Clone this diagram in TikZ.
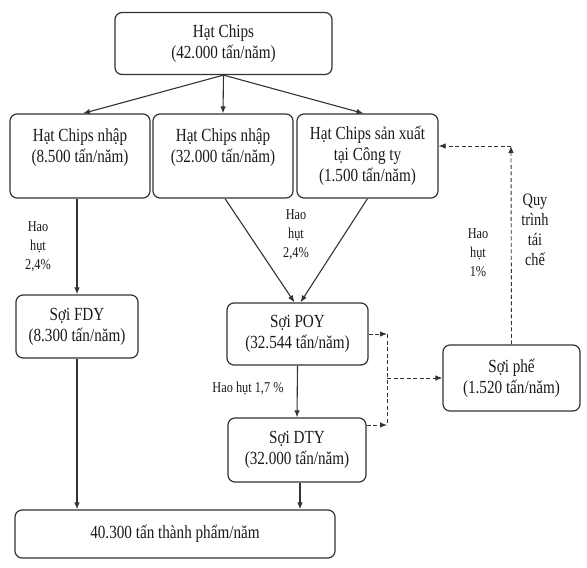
\documentclass[tikz,border=0pt]{standalone}
\usepackage{fontspec}
\setmainfont{Liberation Serif}[FakeStretch=0.82]
\usetikzlibrary{arrows.meta}
\usetikzlibrary{calc}

\begin{document}
\begin{tikzpicture}[x=1pt, y=-1pt,
    hop/.style={draw=black!80, line width=1.2pt, rounded corners=7pt, align=center,
        inner sep=0pt, text=black!90, font=\fontsize{18.5}{21}\selectfont},
    nhan/.style={align=center, text=black!90, font=\fontsize{15}{19}\selectfont},
    muiten/.style={-{Latex[length=7pt, width=5.5pt]}, black!80, line width=1.1pt},
    netdut/.style={black!80, line width=0.9pt, dash pattern=on 4pt off 2.5pt},
    taiche/.style={muiten, netdut}]
\useasboundingbox (0,0) rectangle (587,568);

\node[hop, minimum width=217pt, minimum height=62pt] (chips) at (223.5,43.5) {Hạt Chips\\(42.000 tấn/năm)};
\node[hop, minimum width=140pt, minimum height=84pt] (nhapA) at (80,156) {Hạt Chips nhập\\(8.500 tấn/năm)\\\mbox{}};
\node[hop, minimum width=140pt, minimum height=84pt] (nhapB) at (223,156) {Hạt Chips nhập\\(32.000 tấn/năm)\\\mbox{}};
\node[hop, minimum width=141pt, minimum height=84pt] (sanxuat) at (367.5,156) {Hạt Chips sản xuất\\tại Công ty\\(1.500 tấn/năm)};
\node[hop, minimum width=122pt, minimum height=63pt] (fdy) at (77,326.5) {Sợi FDY\\(8.300 tấn/năm)};
\node[hop, minimum width=141pt, minimum height=62pt] (poy) at (297.5,334) {Sợi POY\\(32.544 tấn/năm)};
\node[hop, minimum width=138pt, minimum height=64pt] (dty) at (297,450) {Sợi DTY\\(32.000 tấn/năm)};
\node[hop, minimum width=137pt, minimum height=66pt] (phe) at (511.5,378) {Sợi phế\\(1.520 tấn/năm)};
\node[hop, minimum width=320pt, minimum height=48pt] (thanhpham) at (175,534) {40.300 tấn thành phẩm/năm};

% nhan hao hut
\node[nhan] (haohutA) at (38,247) {Hao\\hụt\\2,4\%};
\node[nhan] (haohutB) at (296,235) {Hao\\hụt\\2,4\%};
\node[nhan] (haohutC) at (248,389) {Hao hụt 1,7 \%};
\node[nhan] (haohutD) at (478,253) {Hao\\hụt\\1\%};
\node[nhan, font=\fontsize{17.5}{20}\selectfont] (quytrinh) at (535,230) {Quy\\trình\\tái\\chế};

\draw[muiten] (chips.south) -- ([xshift=3pt]nhapA.north);
\draw[muiten] (chips.south) -- (nhapB.north);
\draw[muiten] (chips.south) -- ([xshift=-4pt]sanxuat.north);
\draw[muiten] (nhapA.south -| fdy.north) -- (fdy.north);
\draw[muiten] ([xshift=2pt]nhapB.south) -- ([xshift=-3pt]poy.north);
\draw[muiten] (sanxuat.south) -- ([xshift=3pt]poy.north);
\draw[muiten] (poy.south) -- (dty.north);
\draw[muiten] (fdy.south) -- (fdy.south |- thanhpham.north);
\draw[muiten] ([xshift=3pt]dty.south) -- ([xshift=3pt]dty.south |- thanhpham.north);

% quy trinh tai che
\coordinate (noiT) at (387,334);
\coordinate (noiB) at (387,425);
\coordinate (noi) at (387,378);
\coordinate (goc) at (511,146);
\draw[taiche] (poy.east) -- (noiT);
\draw[taiche] ([yshift=25pt]dty.east) -- (noiB);
\draw[netdut] (noiT) -- (noiB);
\draw[taiche] (noi) -- (phe.west);
\draw[taiche] (phe.north) -- (goc);
\draw[taiche] (goc) -- (goc -| sanxuat.east);

\end{tikzpicture}
\end{document}
